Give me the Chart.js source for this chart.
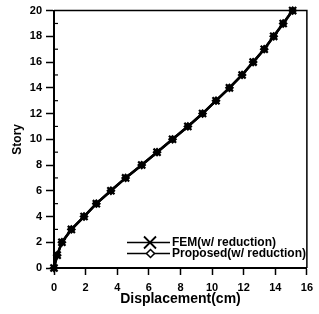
<!DOCTYPE html>
<html>
<head>
<meta charset="utf-8">
<script src="https://cdn.jsdelivr.net/npm/chart.js@4.4.1/dist/chart.umd.min.js"></script>
<style>
    html, body { margin: 0; padding: 0; background: #fff; }
    #wrap { width: 319px; height: 314px; }
</style>
</head>
<body>
<div id="wrap"><canvas id="storyChart"></canvas></div>
<script>
const stories = [0, 1, 2, 3, 4, 5, 6, 7, 8, 9, 10, 11, 12, 13, 14, 15, 16, 17, 18, 19, 20];
const femDisp = [0, 0.2, 0.5, 1.1, 1.9, 2.68, 3.6, 4.53, 5.55, 6.52, 7.5, 8.47, 9.4, 10.25, 11.1, 11.9, 12.6, 13.3, 13.9, 14.5, 15.1];
const proposedDisp = [0, 0.2, 0.5, 1.1, 1.9, 2.68, 3.6, 4.53, 5.55, 6.52, 7.5, 8.47, 9.4, 10.25, 11.1, 11.9, 12.6, 13.3, 13.9, 14.5, 15.1];
const xTicks = [0, 2, 4, 6, 8, 10, 12, 14, 16];
const yTicks = [0, 2, 4, 6, 8, 10, 12, 14, 16, 18, 20];
const seriesNames = ['FEM(w/ reduction)', 'Proposed(w/ reduction)'];

const FONT = '"Liberation Sans", Arial, sans-serif';

// frame on top/right, minor ticks, legend drawn inside the plot
const framePlugin = {
    id: 'frame',
    afterDraw(chart) {
        const ctx = chart.ctx;
        const a = chart.chartArea;
        const y = chart.scales.y;
        ctx.save();
        ctx.strokeStyle = '#000';
        ctx.lineWidth = 1.5;
        ctx.beginPath();
        ctx.moveTo(a.left, a.top);
        ctx.lineTo(a.right, a.top);
        ctx.lineTo(a.right, a.bottom);
        ctx.stroke();

        ctx.lineWidth = 1.2;
        for (let v = 1; v < 20; v += 2) {
            const py = y.getPixelForValue(v);
            ctx.beginPath();
            ctx.moveTo(a.left, py);
            ctx.lineTo(a.left + 4, py);
            ctx.stroke();
        }

        // legend
        const rows = [242.5, 253.5];
        ctx.font = 'bold 12px ' + FONT;
        ctx.textBaseline = 'middle';
        ctx.fillStyle = '#000';
        rows.forEach((ry, i) => {
            ctx.lineWidth = 1.5;
            ctx.beginPath();
            ctx.moveTo(127, ry);
            ctx.lineTo(170, ry);
            ctx.stroke();
            if (i === 0) {
                ctx.lineWidth = 1.8;
                ctx.beginPath();
                ctx.moveTo(144, ry - 6);
                ctx.lineTo(156, ry + 6);
                ctx.moveTo(156, ry - 6);
                ctx.lineTo(144, ry + 6);
                ctx.stroke();
            } else {
                ctx.lineWidth = 1.5;
                ctx.fillStyle = '#fff';
                ctx.beginPath();
                ctx.moveTo(150.5, ry - 4);
                ctx.lineTo(154.5, ry);
                ctx.lineTo(150.5, ry + 4);
                ctx.lineTo(146.5, ry);
                ctx.closePath();
                ctx.fill();
                ctx.stroke();
                ctx.fillStyle = '#000';
            }
            ctx.fillText(seriesNames[i], 172, ry);
        });
        ctx.restore();
    }
};

function createStoryChart() {
    const ctx = document.getElementById('storyChart').getContext('2d');

    const femPoints = stories.map((s, i) => ({ x: femDisp[i], y: s }));
    const propPoints = stories.map((s, i) => ({ x: proposedDisp[i], y: s }));

    const myChart = new Chart(ctx, {
        type: 'scatter',
        data: {
            datasets: [{
                label: seriesNames[0],
                data: femPoints,
                showLine: true,
                borderColor: '#000',
                backgroundColor: '#000',
                borderWidth: 2.5,
                pointStyle: 'crossRot',
                pointRadius: 5,
                pointBorderWidth: 2.2,
                clip: false
            }, {
                label: seriesNames[1],
                data: propPoints,
                showLine: true,
                borderColor: '#000',
                backgroundColor: '#000',
                borderWidth: 2.5,
                pointStyle: 'rectRot',
                pointRadius: 3.6,
                pointBorderWidth: 1.5,
                clip: false
            }]
        },
        options: {
            responsive: true,
            maintainAspectRatio: false,
            animation: false,
            layout: { padding: { top: 9, right: 4, left: 0, bottom: 0 } },
            plugins: {
                legend: { display: false },
                tooltip: { enabled: false }
            },
            scales: {
                x: {
                    type: 'linear',
                    min: 0,
                    max: 16,
                    afterFit: (scale) => { scale.height = 46; },
                    afterBuildTicks: (scale) => { scale.ticks = xTicks.map(v => ({ value: v })); },
                    grid: { drawOnChartArea: false, tickLength: 7, tickColor: '#000', tickWidth: 1.5 },
                    border: { color: '#000', width: 2 },
                    ticks: { color: '#000', padding: 6, maxRotation: 0, font: { family: FONT, size: 11, weight: 'bold' } },
                    title: {
                        display: true,
                        text: 'Displacement(cm)',
                        color: '#000',
                        padding: { top: 0, bottom: 6 },
                        font: { family: FONT, size: 14, weight: 'bold' }
                    }
                },
                y: {
                    type: 'linear',
                    min: 0,
                    max: 20,
                    afterFit: (scale) => { scale.width = 54; },
                    afterBuildTicks: (scale) => { scale.ticks = yTicks.map(v => ({ value: v })); },
                    grid: { drawOnChartArea: false, tickLength: 8, tickColor: '#000', tickWidth: 1.5 },
                    border: { color: '#000', width: 2 },
                    ticks: { color: '#000', padding: 4, font: { family: FONT, size: 11, weight: 'bold' } },
                    title: {
                        display: true,
                        text: 'Story',
                        color: '#000',
                        padding: { top: 10, bottom: 0 },
                        font: { family: FONT, size: 12, weight: 'bold' }
                    }
                }
            }
        },
        plugins: [framePlugin]
    });
}

createStoryChart();
</script>
</body>
</html>
